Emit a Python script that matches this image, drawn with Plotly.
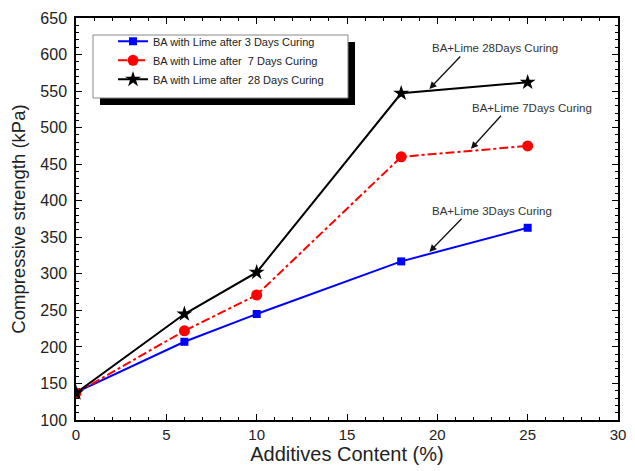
import plotly.graph_objects as go

content = [0, 6, 10, 18, 25]
days3 = [138, 207, 245, 317, 363]
days7 = [137, 222, 271, 460, 475]
days28 = [137, 245, 302, 547, 562]

names = ["BA with Lime after 3 Days Curing",
         "BA with Lime after  7 Days Curing",
         "BA with Lime after  28 Days Curing"]

labels = ["BA+Lime 28Days Curing", "BA+Lime 7Days Curing", "BA+Lime 3Days Curing"]
label_pos = [(23.17, 609), (25.25, 527), (23.0, 386)]
arrow_tail = [(21.3, 598), (23.55, 517), (21.37, 376)]
arrow_tip = [(19.56, 553), (21.86, 471), (19.56, 330)]

font = "Liberation Sans, Arial, sans-serif"

fig = go.Figure()
fig.add_trace(go.Scatter(x=content, y=days3, name=names[0], mode="lines+markers",
                         line=dict(color="#0000ff", width=2),
                         marker=dict(symbol="square", size=8, color="#0000ff")))
fig.add_trace(go.Scatter(x=content, y=days7, name=names[1], mode="lines+markers",
                         line=dict(color="#ff0000", width=2, dash="dashdot"),
                         marker=dict(symbol="circle", size=11, color="#ff0000")))
fig.add_trace(go.Scatter(x=content, y=days28, name=names[2], mode="lines+markers",
                         line=dict(color="#000000", width=2),
                         marker=dict(symbol="star", size=12, color="#000000")))

for (tx, ty), (ax, ay), (hx, hy), lab in zip(label_pos, arrow_tail, arrow_tip, labels):
    fig.add_annotation(x=tx, y=ty, text=lab, showarrow=False,
                       font=dict(family=font, size=11.5, color="#333333"))
    fig.add_annotation(x=hx, y=hy, ax=ax, ay=ay, axref="x", ayref="y", text=" ",
                       font=dict(size=1), borderpad=0,
                       showarrow=True, arrowhead=2, arrowsize=1.1, arrowwidth=1.3,
                       arrowcolor="#111111", standoff=0, startstandoff=0)

# legend box with shadow
fig.add_shape(type="rect", xref="paper", yref="paper", x0=0.0443, x1=0.5148, y0=0.7836, y1=0.9403,
              fillcolor="black", line=dict(width=0), layer="above")
fig.add_shape(type="rect", xref="paper", yref="paper", x0=0.0314, x1=0.5018, y0=0.801, y1=0.9577,
              fillcolor="white", line=dict(color="#888888", width=1), layer="above")

axis_common = dict(showline=True, linecolor="black", linewidth=1.5, mirror="allticks",
                   ticks="inside", ticklen=6, tickwidth=1.2, tickcolor="black",
                   showgrid=False, zeroline=False, automargin=False)

fig.update_xaxes(range=[0, 30], dtick=5, tick0=0,
                 tickfont=dict(family=font, size=15, color="#222222"),
                 minor=dict(ticks="inside", dtick=1, ticklen=3, tickcolor="black", showgrid=False),
                 title=dict(text="Additives Content (%)", font=dict(family=font, size=20, color="#222222"),
                            standoff=3),
                 **axis_common)
fig.update_yaxes(range=[100, 650], dtick=50, tick0=100,
                 tickfont=dict(family=font, size=16, color="#222222"),
                 ticklabelstandoff=4,
                 minor=dict(ticks="inside", dtick=10, ticklen=3, tickcolor="black", showgrid=False),
                 title=dict(text="Compressive strength (kPa)", font=dict(family=font, size=18.5, color="#222222"),
                            standoff=10),
                 **axis_common)

fig.update_layout(
    width=627, height=463,
    margin=dict(l=68, r=17, t=10, b=51),
    paper_bgcolor="white", plot_bgcolor="white",
    showlegend=True,
    legend=dict(x=0.0683, y=0.978, xanchor="left", yanchor="top",
                bgcolor="rgba(0,0,0,0)", borderwidth=0,
                font=dict(family=font, size=11, color="#222222"),
                tracegroupgap=0, itemwidth=30),
)

fig.write_html("out.html")
